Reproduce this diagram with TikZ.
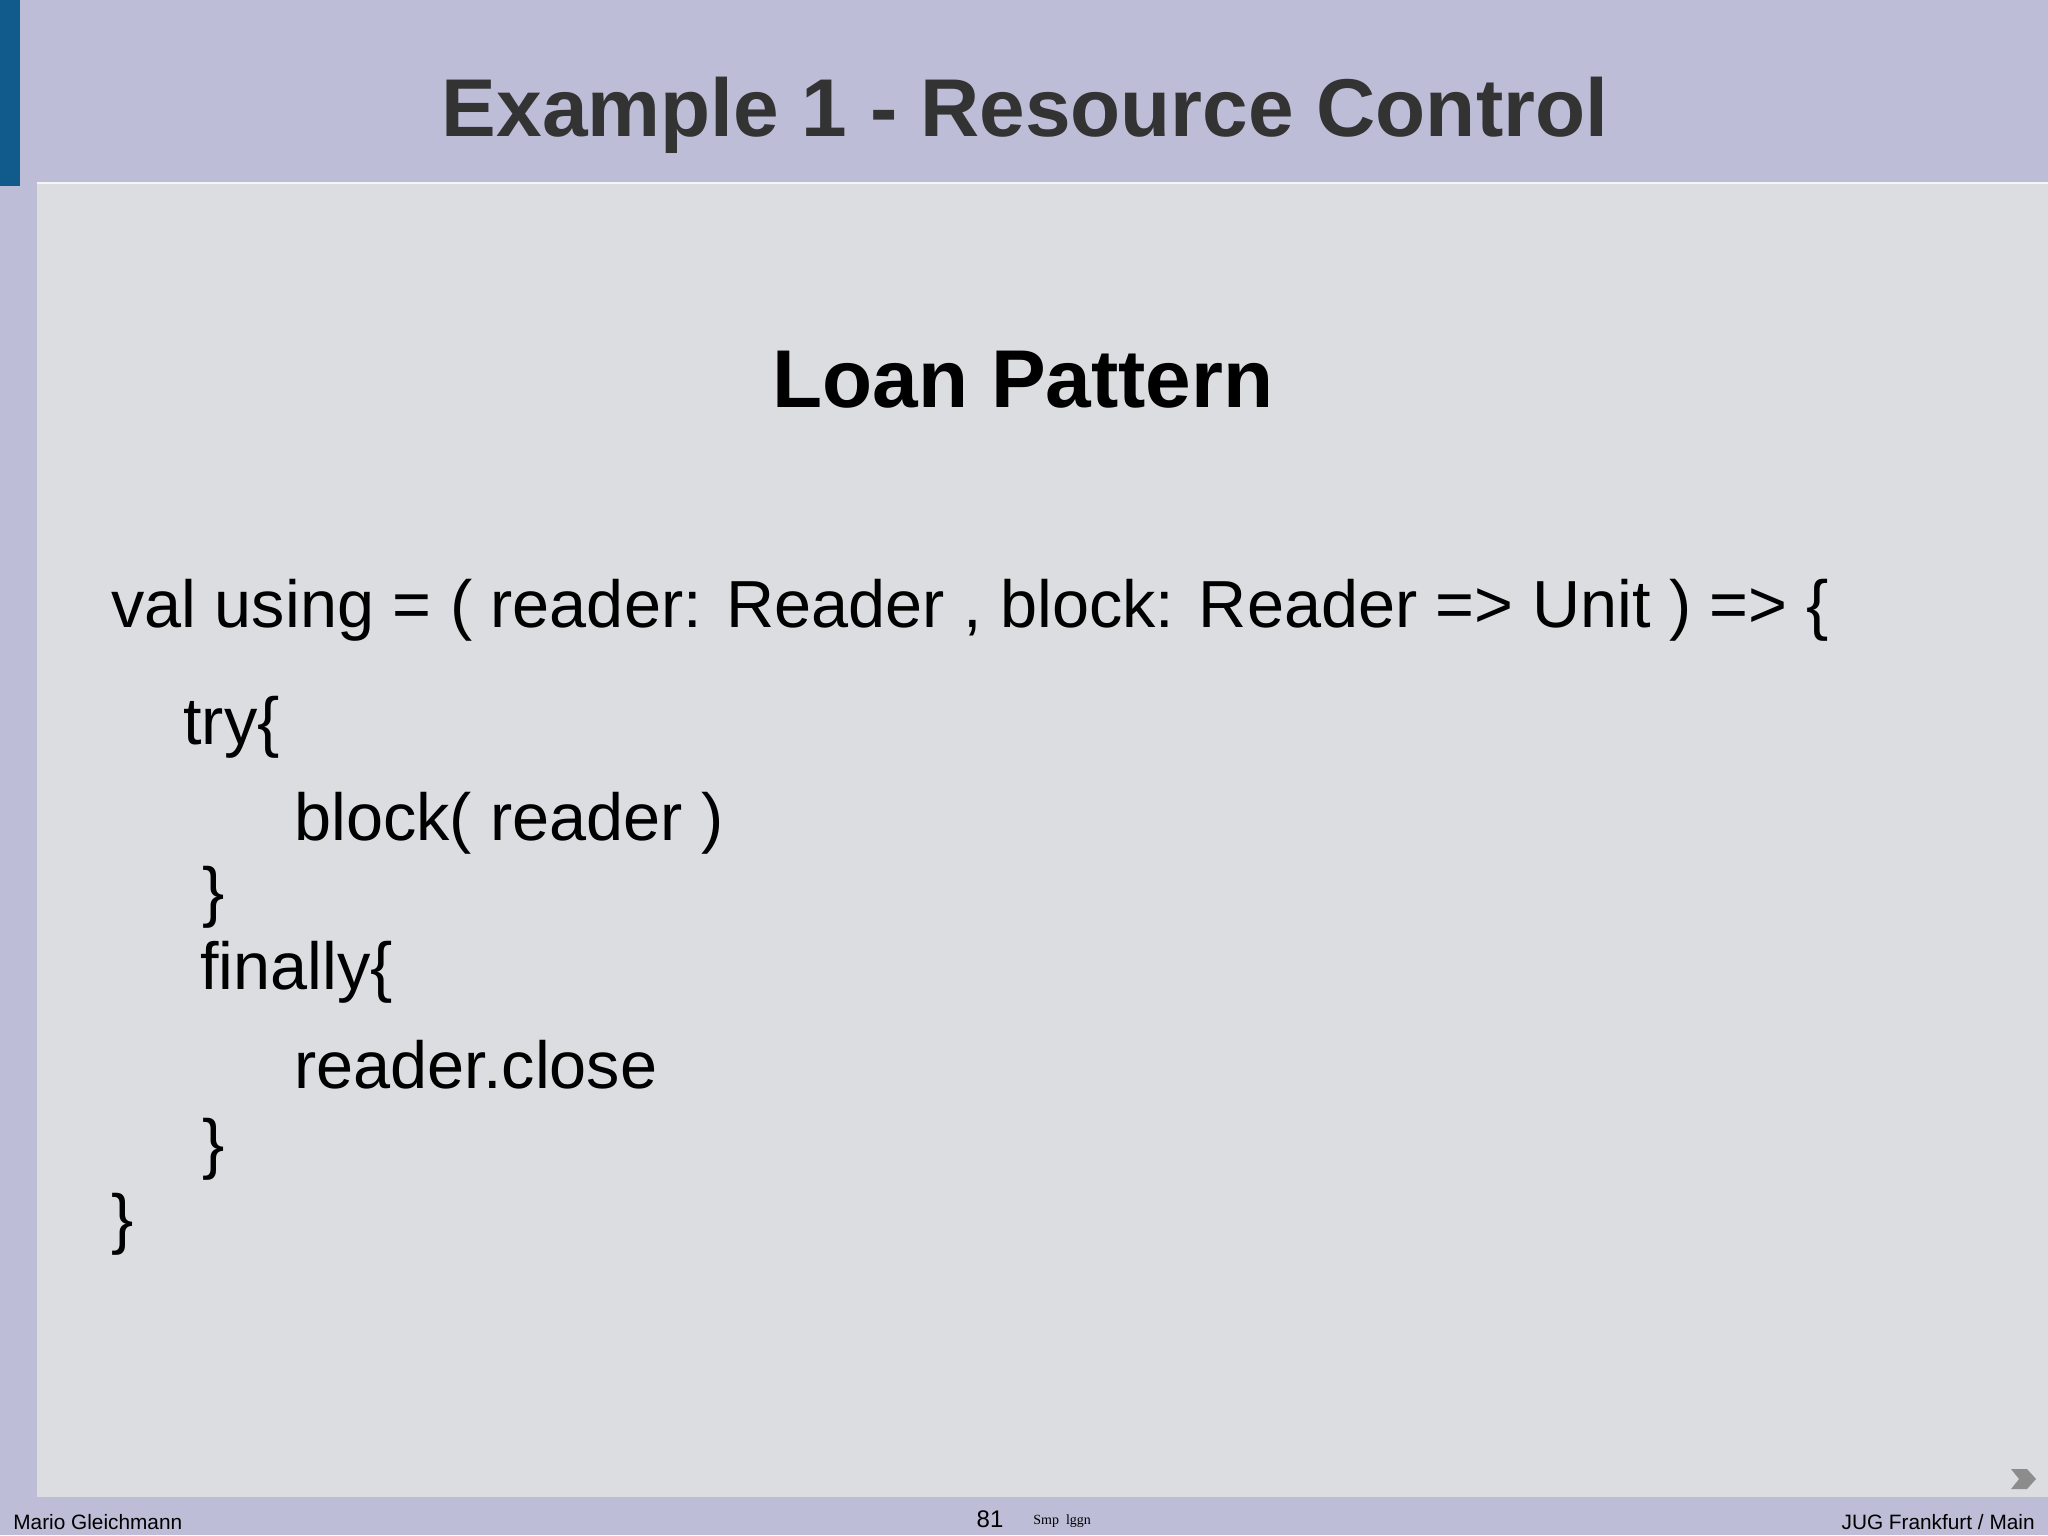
\documentclass[tikz,border=0pt]{standalone}
\usepackage{fontspec}
\setmainfont{Liberation Sans}
\newfontfamily\serifx{Liberation Serif}
\definecolor{band}{HTML}{BDBDD7}
\definecolor{panel}{HTML}{DCDDE0}
\definecolor{bluebar}{HTML}{105A8C}
\definecolor{titlegray}{HTML}{333333}
\begin{document}
\begin{tikzpicture}[x=0.5pt,y=-0.5pt,
  code/.style={anchor=base west,inner sep=0pt,font=\fontsize{33.3}{40}\selectfont,text=black},
  foot/.style={inner sep=0pt,font=\fontsize{10.4}{12}\selectfont,text=black}]
\fill[band] (0,0) rectangle (2048,1535);
\useasboundingbox (0,0) rectangle (2048,1535);
\fill[bluebar] (0,0) rectangle (20,186);
\fill[panel] (37,183) rectangle (2048,1497);
\draw[white!70!panel,line width=1pt] (37,183) -- (2048,183);
\node[anchor=base,inner sep=0pt,font=\fontsize{41}{48}\selectfont\bfseries,text=titlegray] (title) at (1025,137) {Example 1 - Resource Control};
\node[anchor=base,inner sep=0pt,font=\fontsize{41}{48}\selectfont\bfseries] (sub) at (1023,407) {Loan Pattern};
\node[code] (l1) at (111,627) {val using = ( reader: Reader , block: Reader => Unit ) => \{};
\node[code] (l2) at (183,744) {try\{};
\node[code] (l3) at (294,840) {block( reader )};
\node[code] (l4) at (202,914) {\}};
\node[code] (l5) at (200,989) {finally\{};
\node[code] (l6) at (294,1088) {reader.close};
\node[code] (l7) at (202,1166) {\}};
\node[code] (l8) at (111,1241) {\}};
\node[foot,anchor=base west] (f1) at (13,1529) {Mario Gleichmann};
\node[foot,anchor=base,font=\fontsize{12}{14}\selectfont] (f2) at (990,1527) {81};
\node[foot,anchor=base west,font=\fontsize{7}{8}\selectfont\serifx] (f3) at (1033,1524) {Smp\ \ lggn};
\node[foot,anchor=base east] (f4) at (2035,1529) {JUG Frankfurt / Main};
\fill[gray!90] (2011,1469) -- (2027,1469) -- (2036,1479) -- (2027,1489) -- (2011,1489) -- (2019,1479) -- cycle;
\end{tikzpicture}
\end{document}
